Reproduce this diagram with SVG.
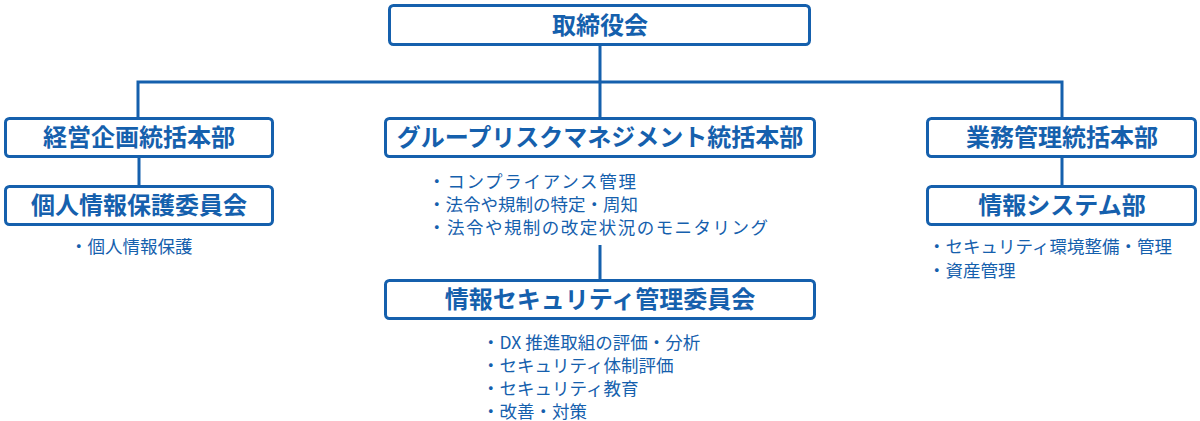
<svg xmlns="http://www.w3.org/2000/svg" width="1200" height="421" viewBox="0 0 1200 421">
<style>
.b{fill:#fff;stroke:#1560ad;stroke-width:3}
.t{font-family:"Noto Sans CJK JP",sans-serif;font-weight:bold;font-size:24px;fill:#1560ad;text-anchor:middle}
.s{font-family:"Noto Sans CJK JP",sans-serif;font-size:17.5px;fill:#1560ad}
.c{stroke:#1560ad;stroke-width:3;fill:none}
</style>
<rect width="1200" height="421" fill="#fff"/>
<g id="connectors">
<path class="c" d="M600 45V118M138 118V82H1062V118M139 157V186M1062 157V186M600 245V280"/>
</g>
<g id="n1"><rect class="b" x="389.5" y="5.5" width="420" height="39" rx="4"/><text class="t" x="600" y="34">取締役会</text></g>
<g id="n2"><rect class="b" x="5.5" y="118.5" width="267" height="38" rx="4"/><text class="t" x="139" y="146">経営企画統括本部</text></g>
<g id="n3"><rect class="b" x="385.5" y="118.5" width="429" height="38" rx="4"/><text class="t" x="600" y="146">グループリスクマネジメント統括本部</text></g>
<g id="n4"><rect class="b" x="927.5" y="118.5" width="268" height="38" rx="4"/><text class="t" x="1062" y="146">業務管理統括本部</text></g>
<g id="n5"><rect class="b" x="5.5" y="186.5" width="267" height="38" rx="4"/><text class="t" x="139" y="214">個人情報保護委員会</text>
<text class="s" x="70" y="253">・個人情報保護</text></g>
<g id="n6"><rect class="b" x="927.5" y="186.5" width="268" height="38" rx="4"/><text class="t" x="1062" y="214">情報システム部</text>
<text class="s" x="928" y="253">・セキュリティ環境整備・管理</text><text class="s" x="928" y="277">・資産管理</text></g>
<g id="n3t"><text class="s" x="428" y="188" textLength="208">・コンプライアンス管理</text><text class="s" x="428" y="211">・法令や規制の特定・周知</text><text class="s" x="428" y="234" textLength="340">・法令や規制の改定状況のモニタリング</text></g>
<g id="n7"><rect class="b" x="385.5" y="280.5" width="429" height="38" rx="4"/><text class="t" x="600" y="308">情報セキュリティ管理委員会</text>
<text class="s" x="482" y="349">・DX 推進取組の評価・分析</text><text class="s" x="482" y="372">・セキュリティ体制評価</text><text class="s" x="482" y="395">・セキュリティ教育</text><text class="s" x="482" y="418">・改善・対策</text></g>
</svg>
